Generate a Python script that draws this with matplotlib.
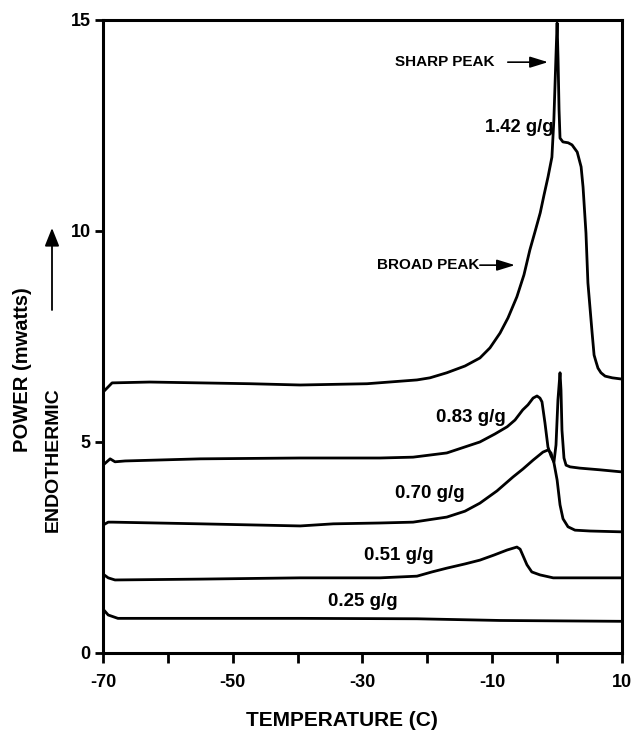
import numpy as np
import matplotlib
matplotlib.use("Agg")
import matplotlib.pyplot as plt

# DSC traces (temp in C, power in mwatts)
temp_142 = [-70, -68.6, -62.8, -55, -47.3, -39.6, -29.3, -21.6, -19.6, -17, -14.2, -11.9,
            -10.35, -8.8, -7.57, -6.2, -5.11, -4.2, -3.41, -2.6, -2.02, -1.4, -0.8, -0.5,
            -0.17, 0, 0.15, 0.3, 0.45, 0.9, 1.7, 2.3, 3.1, 3.7, 4.0, 4.45, 4.75, 5.4,
            5.7, 6.0, 6.3, 6.76, 7.4, 8.5, 10]
pow_142 = [6.18, 6.40, 6.42, 6.40, 6.38, 6.35, 6.38, 6.47, 6.52, 6.64, 6.80, 6.99,
           7.23, 7.58, 7.94, 8.44, 8.96, 9.55, 9.98, 10.43, 10.85, 11.28, 11.75, 12.63,
           14.17, 14.93, 14.05, 12.87, 12.20, 12.11, 12.09, 12.04, 11.87, 11.52, 11.04, 9.95, 8.77, 7.58,
           7.06, 6.90, 6.75, 6.64, 6.56, 6.52, 6.49]

temp_083 = [-70, -68.9, -68.15, -66.6, -55, -39.6, -27.3, -22.2, -17, -11.9, -9.58, -7.7,
            -6.49, -5.3, -4.49, -3.7, -3.1, -2.64, -2.33, -1.87, -1.41, -0.94, -0.48, -0.17,
            0.13, 0.45, 0.6, 0.75, 1.06, 1.38, 2.0, 3.5, 6.6, 10]
pow_083 = [4.45, 4.60, 4.53, 4.55, 4.60, 4.62, 4.62, 4.64, 4.74, 5.00, 5.19, 5.36,
           5.52, 5.76, 5.88, 6.04, 6.09, 6.04, 5.95, 5.45, 4.88, 4.67, 4.53, 4.93,
           6.00, 6.64, 6.23, 5.28, 4.62, 4.45, 4.41, 4.38, 4.34, 4.29]

temp_070 = [-70, -69.2, -68.5, -55, -39.6, -34.5, -27.3, -22.2, -17, -14.2, -11.9, -9.27,
            -6.8, -5.26, -3.7, -2.18, -1.41, -0.94, -0.48, 0, 0.45, 0.91, 1.68, 2.76,
            5.07, 10]
pow_070 = [3.03, 3.10, 3.10, 3.06, 3.01, 3.06, 3.08, 3.10, 3.22, 3.36, 3.55, 3.84,
           4.17, 4.36, 4.57, 4.76, 4.81, 4.74, 4.50, 4.10, 3.51, 3.18, 2.99, 2.91,
           2.89, 2.87]

temp_051 = [-70, -69.2, -68.15, -55, -39.6, -27.3, -21.6, -19.3, -17, -14.2, -11.9, -9.73,
            -7.7, -6.2, -5.7, -5.3, -4.65, -3.9, -2.64, -0.6, 3.5, 10]
pow_051 = [1.87, 1.78, 1.73, 1.75, 1.78, 1.78, 1.82, 1.92, 2.01, 2.11, 2.20, 2.32,
           2.44, 2.51, 2.46, 2.32, 2.09, 1.92, 1.85, 1.78, 1.78, 1.78]

temp_025 = [-70, -69.2, -67.7, -55, -39.6, -21.6, -8.8, 10]
pow_025 = [1.04, 0.90, 0.82, 0.82, 0.82, 0.81, 0.77, 0.75]

xticks = [-70, -60, -50, -40, -30, -20, -10, 0, 10]
xlabels = ['-70', '', '-50', '', '-30', '', '-10', '', '10']
yticks = [0, 5, 10, 15]

plt.rcParams['font.family'] = ['Liberation Sans', 'DejaVu Sans']
plt.rcParams['font.weight'] = 'bold'

fig = plt.figure(figsize=(6.43, 7.34), dpi=100)
ax = fig.add_axes([0.1602, 0.1104, 0.8071, 0.8624])

for t, p in [(temp_142, pow_142), (temp_083, pow_083), (temp_070, pow_070),
             (temp_051, pow_051), (temp_025, pow_025)]:
    ax.plot(t, p, color='black', lw=2.0, solid_joinstyle='round')

ax.set_xlim(-70, 10)
ax.set_ylim(0, 15)
ax.set_xticks(xticks)
ax.set_xticklabels(xlabels)
ax.set_yticks(yticks)
ax.tick_params(axis='x', direction='out', length=7, width=2, pad=8, labelsize=13)
ax.tick_params(axis='y', direction='out', length=6, width=2, pad=3, labelsize=13)
for lab in ax.get_xticklabels() + ax.get_yticklabels():
    lab.set_fontweight('bold')
for s in ax.spines.values():
    s.set_linewidth(2.2)

# curve labels
ax.text(-0.6, 12.45, '1.42 g/g', ha='right', va='center', fontsize=13.2)
ax.text(-13.3, 5.57, '0.83 g/g', ha='center', va='center', fontsize=13.5)
ax.text(-19.6, 3.79, '0.70 g/g', ha='center', va='center', fontsize=13.5)
ax.text(-24.4, 2.32, '0.51 g/g', ha='center', va='center', fontsize=13.5)
ax.text(-29.9, 1.21, '0.25 g/g', ha='center', va='center', fontsize=13.5)

# peak markers
arw = dict(arrowstyle='-|>,head_length=0.55,head_width=0.17', color='black', lw=1.2,
           mutation_scale=20, shrinkA=0, shrinkB=0)
ax.text(-17.3, 14.0, 'SHARP PEAK', ha='center', va='center', fontsize=11)
ax.annotate('', xy=(-1.4, 14.0), xytext=(-7.6, 14.0), arrowprops=arw)
ax.text(-19.8, 9.19, 'BROAD PEAK', ha='center', va='center', fontsize=11)
ax.annotate('', xy=(-6.5, 9.19), xytext=(-11.9, 9.19), arrowprops=arw)

fig.text(342 / 643, 1 - 720 / 734, 'TEMPERATURE (C)', ha='center', va='center', fontsize=15)
fig.text(23 / 643, 1 - 370 / 734, 'POWER (mwatts)', rotation=90, ha='center', va='center', fontsize=14.5)
fig.text(53 / 643, 1 - 460 / 734, 'ENDOTHERMIC', rotation=90, ha='center', va='center', fontsize=14)
ax.annotate('', xy=(52 / 643, 1 - 228 / 734), xytext=(52 / 643, 1 - 310 / 734),
            xycoords='figure fraction', textcoords='figure fraction',
            arrowprops=dict(arrowstyle='-|>,head_length=0.55,head_width=0.22', color='black',
                            lw=1.3, mutation_scale=20, shrinkA=0, shrinkB=0))

fig.savefig('out.png', dpi=100)
